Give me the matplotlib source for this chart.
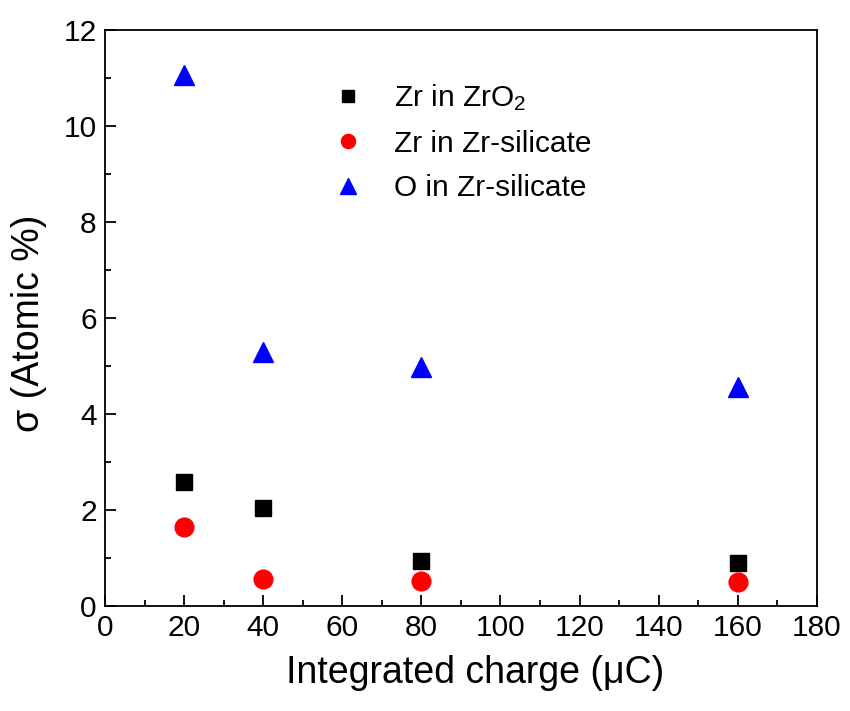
import matplotlib
matplotlib.use('Agg')
import matplotlib.pyplot as plt
from matplotlib.ticker import MultipleLocator

plt.rcParams['font.family'] = ['Liberation Sans', 'DejaVu Sans']
plt.rcParams['mathtext.default'] = 'regular'

# data
charge = [20, 40, 80, 160]
zr_zro2 = [2.59, 2.04, 0.94, 0.90]
zr_silicate = [1.65, 0.56, 0.52, 0.50]
o_silicate = [11.05, 5.30, 4.97, 4.56]

fig = plt.figure(figsize=(8.5, 7.11), dpi=100)
ax = fig.add_axes([0.1235, 0.1477, 0.8375, 0.8103])

ax.plot(charge, zr_zro2, ls='none', marker='s', ms=11.5, color='black',
        label='Zr in ZrO$_2$')
ax.plot(charge, zr_silicate, ls='none', marker='o', ms=13.5, color='red',
        markeredgecolor='red', label='Zr in Zr-silicate')
ax.plot(charge, o_silicate, ls='none', marker='^', ms=15, color='blue',
        markeredgecolor='blue', label='O in Zr-silicate')

ax.set_xlim(0, 180)
ax.set_ylim(0, 12)
ax.xaxis.set_major_locator(MultipleLocator(20))
ax.xaxis.set_minor_locator(MultipleLocator(10))
ax.yaxis.set_major_locator(MultipleLocator(2))
ax.yaxis.set_minor_locator(MultipleLocator(1))
ax.tick_params(which='both', direction='in', top=False, right=False,
               width=1.3, labelsize=21.5, pad=6)
ax.tick_params(which='major', length=8)
ax.tick_params(which='minor', length=4.5)
for s in ax.spines.values():
    s.set_linewidth(1.3)

ax.set_xlabel('Integrated charge (μC)', fontsize=27)
ax.set_ylabel('σ (Atomic %)', fontsize=27)
ax.xaxis.set_label_coords(0.52, -0.085)
ax.yaxis.set_label_coords(-0.082, 0.49)

ax.legend(loc='upper left', bbox_to_anchor=(0.272, 0.955), frameon=False,
          fontsize=21.5, markerscale=0.75, handletextpad=0.8,
          labelspacing=0.55, handlelength=1.5)

fig.savefig('out.png', dpi=100)
